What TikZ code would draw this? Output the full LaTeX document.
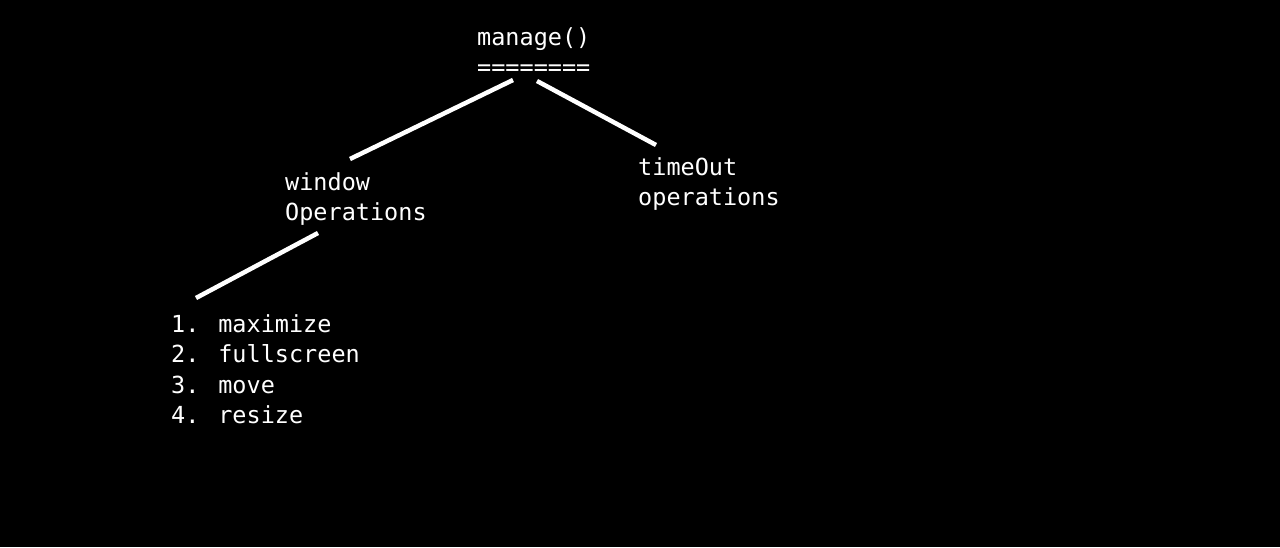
\documentclass[tikz,border=0pt]{standalone}
\usepackage{fontspec}
\newfontfamily\codefont{DejaVu Sans Mono}
\begin{document}
\begin{tikzpicture}[x=1pt,y=-1pt,
  lbl/.style={text=white,font=\codefont\fontsize{23.5}{30.5}\selectfont,align=left,anchor=base west,inner sep=0pt},
  edge/.style={draw=white,line width=4.5pt}]
\fill[black] (0,0) rectangle (1280,547);
\useasboundingbox (0,0) rectangle (1280,547);
\node[lbl] (manage) at (477,75.5) {manage()\\========};
\node[lbl] (window) at (285,220.5) {window\\Operations};
\node[lbl] (timeout) at (638,205.5) {timeOut\\operations};
\node[lbl] (list) at (171,423.5) {1. maximize\\2. fullscreen\\3. move\\4. resize};
\coordinate (m1) at (513,80);
\coordinate (w1) at (350,159);
\coordinate (m2) at (537,81);
\coordinate (t1) at (656,145);
\coordinate (w2) at (318,233);
\coordinate (l1) at (196,298);
\draw[edge] (m1) -- (w1);
\draw[edge] (m2) -- (t1);
\draw[edge] (w2) -- (l1);
\end{tikzpicture}
\end{document}
